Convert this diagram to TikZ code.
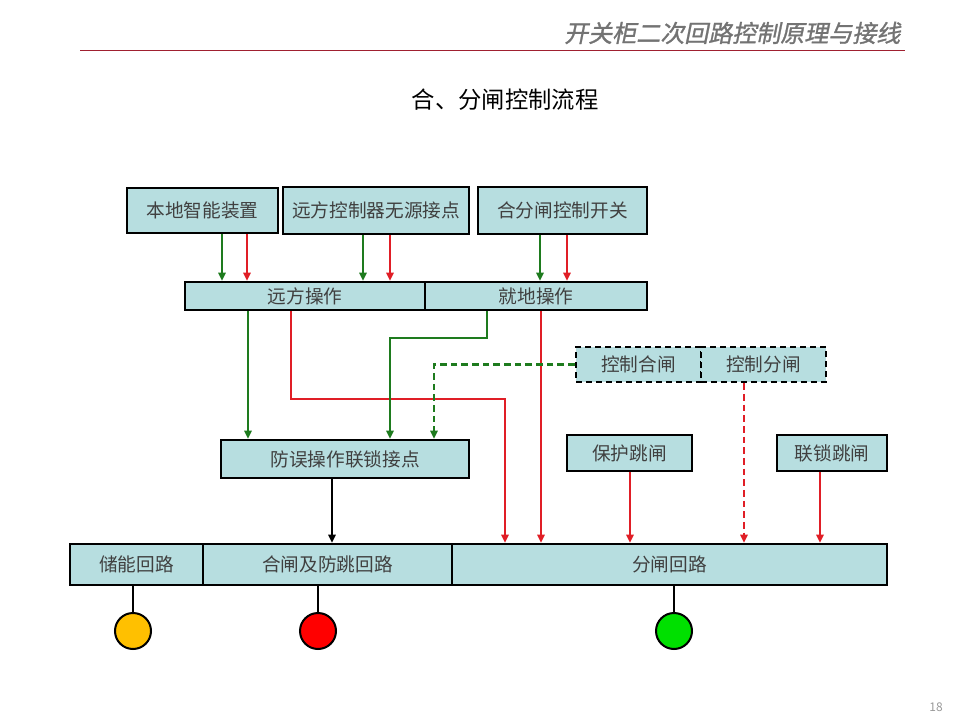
\documentclass[tikz,border=0pt]{standalone}
\usepackage{fontspec}
\setmainfont{Noto Sans CJK SC}
\newfontfamily\headfont[FakeSlant=0.2,FakeBold=1.2]{Noto Sans CJK SC}
\usetikzlibrary{arrows.meta}
\definecolor{boxfill}{HTML}{B7DEE0}
\definecolor{gline}{HTML}{1E7B1E}
\definecolor{rline}{HTML}{E01E26}
\definecolor{headred}{HTML}{A02030}
\definecolor{yel}{HTML}{FFC000}
\definecolor{grn}{HTML}{00E000}
\begin{document}
\begin{tikzpicture}[x=0.75pt,y=-0.75pt,
  box/.style={draw=black,line width=1.9pt,fill=boxfill,inner sep=0pt,text=black!75,font=\fontsize{14}{16}\selectfont},
  dbox/.style={box,dashed,dash pattern=on 4.5pt off 3pt},
  arr/.style={line width=1.6pt},
  garrow/.style={arr,draw=gline,-{Triangle[length=6pt,width=5.5pt,fill=gline]}},
  rarrow/.style={arr,draw=rline,-{Triangle[length=6pt,width=5.5pt,fill=rline]}},
  karrow/.style={arr,draw=black,-{Triangle[length=6pt,width=5.5pt,fill=black]}},
  dot/.style={circle,draw=black,line width=1.5pt,minimum size=27pt,inner sep=0pt},
  stem/.style={line width=1.6pt,draw=black}]
\useasboundingbox (0,0) rectangle (960,720);
% header
\node[anchor=east,text=black!55,font=\headfont\fontsize{18}{20}\selectfont] (head) at (905,33) {开关柜二次回路控制原理与接线};
\draw[headred,line width=0.6pt] (80,50) -- (905,50);
\node[font=\fontsize{17.5}{20}\selectfont] (title) at (505,100) {合、分闸控制流程};
\node[text=black!40,font=\fontsize{9}{10}\selectfont] (pg) at (936,707) {18};
% boxes
\node[box,minimum width=113.25pt,minimum height=33.75pt] (bd) at (202.5,210.5) {本地智能装置};
\node[box,minimum width=139.5pt,minimum height=35.25pt] (yk) at (376,210.5) {远方控制器无源接点};
\node[box,minimum width=126.75pt,minimum height=35.25pt] (kg) at (562.5,210.5) {合分闸控制开关};
\node[box,minimum width=180pt,minimum height=21pt] (yc) at (305,296) {远方操作};
\node[box,minimum width=166.5pt,minimum height=21pt] (jd) at (536,296) {就地操作};
\node[dbox,minimum width=93.75pt,minimum height=26.25pt] (kh) at (638.5,364.5) {控制合闸};
\node[dbox,minimum width=93.75pt,minimum height=26.25pt] (kf) at (763.5,364.5) {控制分闸};
\node[box,minimum width=186pt,minimum height=28.5pt] (fw) at (345,459) {防误操作联锁接点};
\node[box,minimum width=93.75pt,minimum height=27pt] (bh) at (629.5,453) {保护跳闸};
\node[box,minimum width=82.5pt,minimum height=27pt] (ls) at (832,453) {联锁跳闸};
\node[box,minimum width=99.75pt,minimum height=30.75pt] (cn) at (136.5,564.5) {储能回路};
\node[box,minimum width=186.75pt,minimum height=30.75pt] (hz) at (327.5,564.5) {合闸及防跳回路};
\node[box,minimum width=326.25pt,minimum height=30.75pt] (fz) at (669.5,564.5) {分闸回路};
% lamps
\node[dot,fill=yel] (l1) at (133,631) {};
\node[dot,fill=red] (l2) at (318,631) {};
\node[dot,fill=grn] (l3) at (674,631) {};
\draw[stem] (cn.south -| l1) -- (l1.north);
\draw[stem] (hz.south -| l2) -- (l2.north);
\draw[stem] (fz.south -| l3) -- (l3.north);
% top arrows
\draw[garrow] (bd.south -| 222,0) -- (yc.north -| 222,0);
\draw[rarrow] (bd.south -| 247,0) -- (yc.north -| 247,0);
\draw[garrow] (yk.south -| 363,0) -- (yc.north -| 363,0);
\draw[rarrow] (yk.south -| 390,0) -- (yc.north -| 390,0);
\draw[garrow] (kg.south -| 540,0) -- (jd.north -| 540,0);
\draw[rarrow] (kg.south -| 567,0) -- (jd.north -| 567,0);
% middle
\draw[garrow] (yc.south -| 248,0) -- (fw.north -| 248,0);
\draw[rarrow] (yc.south -| 291,0) |- (505,399) -- (fz.north -| 505,0);
\draw[garrow] (jd.south -| 487,0) |- (390,338) -- (fw.north -| 390,0);
\draw[rarrow] (jd.south -| 541,0) -- (fz.north -| 541,0);
\draw[garrow,dashed,dash pattern=on 5pt off 3pt] (kh.west) -| (fw.north -| 434,0);
\draw[rarrow,dashed,dash pattern=on 5pt off 3pt] (kf.south -| 744,0) -- (fz.north -| 744,0);
\draw[rarrow] (bh.south -| 630,0) -- (fz.north -| 630,0);
\draw[rarrow] (ls.south -| 820,0) -- (fz.north -| 820,0);
\draw[karrow] (fw.south -| 332,0) -- (hz.north -| 332,0);
\end{tikzpicture}
\end{document}
